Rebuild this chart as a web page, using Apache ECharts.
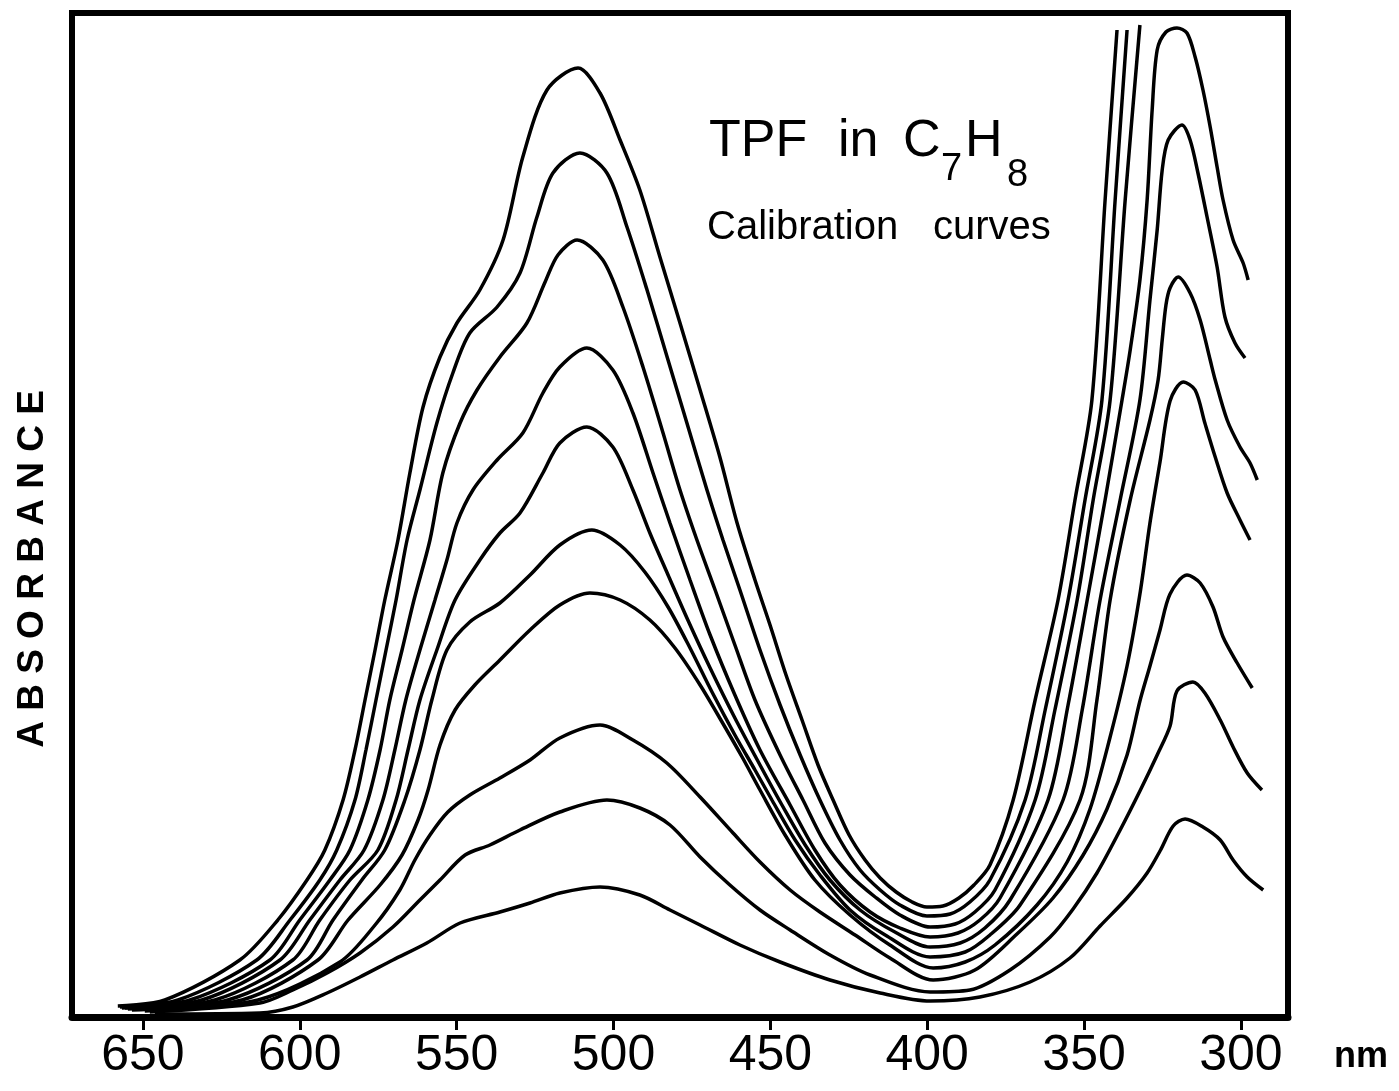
<!DOCTYPE html>
<html>
<head>
<meta charset="utf-8">
<title>TPF in C7H8 - calibration curves</title>
<script src="https://cdn.jsdelivr.net/npm/echarts@6/dist/echarts.min.js"></script>
<style>
  html, body { margin: 0; padding: 0; background: #fff; }
  #chart { width: 1399px; height: 1091px; }
</style>
</head>
<body>
<div id="chart"></div>
<script>
// [wavelength nm, absorbance], highest concentration first
var curve1 = [[658.0,0.011],[643.0,0.017],[619.1,0.057],[607.0,0.097],[597.7,0.137],[592.0,0.167],[586.2,0.217],[582.4,0.267],[579.2,0.317],[576.0,0.367],[572.9,0.417],[568.7,0.477],[564.9,0.544],[560.7,0.610],[555.3,0.660],[549.9,0.694],[542.6,0.727],[535.2,0.777],[528.9,0.860],[521.2,0.927],[511.3,0.949],[504.3,0.924],[497.9,0.877],[491.6,0.827],[485.2,0.760],[478.8,0.694],[472.4,0.627],[466.1,0.560],[460.6,0.494],[454.9,0.437],[450.1,0.392],[445.0,0.342],[439.9,0.297],[434.8,0.252],[430.0,0.217],[424.9,0.182],[419.8,0.157],[415.0,0.139],[409.9,0.125],[404.8,0.115],[400.1,0.110],[395.0,0.111],[389.9,0.119],[385.1,0.132],[380.0,0.152],[372.6,0.217],[365.6,0.317],[358.3,0.417],[352.9,0.517],[347.5,0.617],[343.3,0.817],[339.5,0.987]];
var curve2 = [[657.3,0.010],[638.8,0.017],[613.7,0.057],[603.1,0.097],[593.6,0.137],[588.2,0.167],[582.4,0.217],[578.9,0.267],[575.7,0.317],[572.5,0.367],[569.3,0.417],[565.8,0.477],[561.7,0.527],[556.3,0.594],[551.2,0.644],[545.8,0.684],[537.1,0.710],[529.8,0.744],[524.4,0.800],[519.3,0.844],[510.7,0.864],[502.1,0.844],[495.7,0.790],[489.3,0.727],[482.9,0.660],[476.6,0.594],[470.2,0.527],[465.1,0.477],[459.7,0.427],[453.3,0.367],[446.9,0.312],[440.5,0.262],[434.2,0.217],[427.8,0.177],[421.4,0.147],[415.0,0.127],[408.7,0.112],[400.1,0.101],[392.7,0.103],[386.4,0.115],[380.0,0.137],[368.8,0.217],[362.4,0.307],[355.1,0.417],[349.7,0.517],[344.3,0.617],[340.1,0.817],[336.3,0.987]];
var curve3 = [[656.7,0.009],[635.0,0.017],[609.5,0.057],[600.0,0.097],[590.4,0.137],[584.0,0.167],[578.3,0.217],[574.4,0.267],[571.3,0.317],[567.4,0.367],[563.6,0.417],[558.5,0.477],[554.4,0.544],[548.9,0.594],[543.5,0.627],[536.2,0.660],[527.6,0.694],[521.8,0.735],[517.7,0.762],[511.6,0.777],[503.4,0.757],[497.0,0.710],[490.6,0.650],[484.2,0.584],[478.8,0.527],[473.4,0.477],[467.6,0.427],[461.3,0.372],[454.9,0.317],[446.9,0.262],[439.6,0.217],[432.6,0.174],[424.6,0.142],[416.6,0.120],[408.7,0.102],[399.1,0.090],[391.1,0.093],[384.8,0.105],[378.4,0.127],[365.6,0.217],[359.3,0.307],[352.2,0.417],[347.1,0.517],[341.7,0.617],[336.9,0.817],[332.2,0.992]];
var curve4 = [[655.7,0.009],[631.2,0.017],[606.3,0.057],[596.8,0.097],[587.2,0.137],[579.5,0.167],[573.5,0.217],[569.7,0.267],[566.2,0.317],[561.7,0.367],[556.9,0.417],[553.1,0.457],[549.9,0.494],[544.8,0.527],[537.1,0.557],[528.9,0.584],[522.5,0.624],[517.1,0.650],[508.5,0.669],[500.2,0.647],[493.8,0.604],[487.4,0.544],[482.0,0.494],[475.6,0.437],[469.2,0.382],[461.3,0.322],[453.3,0.267],[443.7,0.212],[435.8,0.167],[427.8,0.132],[418.2,0.105],[408.7,0.089],[399.1,0.080],[390.2,0.084],[383.2,0.097],[376.8,0.119],[361.5,0.217],[355.1,0.312],[349.0,0.417],[343.3,0.517],[337.9,0.617],[335.3,0.667],[332.2,0.737],[329.9,0.817],[328.3,0.907],[326.7,0.967],[323.9,0.985],[320.4,0.989],[317.2,0.984],[314.6,0.960],[312.1,0.927],[309.8,0.890],[307.6,0.850],[305.7,0.817],[302.5,0.777],[299.3,0.754],[297.7,0.737]];
var curve5 = [[654.8,0.008],[627.0,0.017],[602.2,0.057],[593.6,0.097],[584.0,0.137],[575.1,0.167],[569.3,0.217],[565.5,0.267],[561.7,0.317],[556.3,0.367],[550.5,0.417],[542.6,0.457],[536.2,0.484],[529.8,0.504],[522.5,0.544],[517.1,0.574],[508.5,0.590],[500.2,0.570],[493.8,0.527],[488.4,0.484],[482.6,0.442],[476.3,0.397],[469.2,0.349],[461.3,0.299],[453.3,0.252],[446.3,0.212],[438.9,0.172],[431.0,0.137],[421.4,0.107],[410.3,0.085],[399.1,0.070],[389.5,0.074],[381.6,0.089],[373.6,0.117],[356.7,0.217],[350.6,0.307],[344.9,0.417],[338.5,0.517],[332.2,0.617],[329.0,0.717],[326.7,0.787],[325.1,0.847],[323.2,0.877],[318.8,0.892],[316.2,0.877],[313.7,0.844],[310.8,0.800],[307.6,0.750],[305.1,0.700],[301.9,0.674],[298.7,0.659]];
var curve6 = [[653.5,0.007],[622.9,0.017],[597.7,0.057],[589.4,0.097],[580.2,0.137],[572.9,0.167],[566.5,0.217],[561.7,0.267],[557.9,0.317],[553.1,0.367],[545.8,0.395],[536.2,0.414],[526.6,0.442],[517.1,0.472],[506.9,0.487],[497.9,0.472],[490.0,0.445],[482.6,0.410],[475.6,0.369],[468.6,0.325],[461.3,0.282],[454.9,0.247],[449.5,0.217],[442.1,0.177],[434.2,0.142],[424.6,0.107],[413.4,0.082],[399.1,0.060],[387.9,0.065],[380.0,0.082],[370.4,0.112],[351.3,0.217],[345.9,0.317],[341.7,0.417],[335.3,0.517],[329.0,0.597],[326.4,0.637],[325.1,0.677],[323.9,0.712],[322.6,0.729],[320.0,0.740],[316.2,0.724],[313.0,0.697],[309.8,0.657],[308.2,0.637],[304.4,0.597],[300.3,0.570],[297.1,0.554],[294.8,0.537]];
var curve7 = [[647.8,0.009],[618.4,0.017],[594.2,0.057],[584.6,0.097],[574.4,0.132],[567.4,0.162],[562.3,0.197],[559.1,0.227],[555.3,0.272],[550.5,0.307],[544.2,0.332],[536.2,0.357],[526.6,0.387],[517.1,0.412],[507.5,0.424],[497.9,0.417],[488.4,0.397],[480.4,0.369],[472.4,0.332],[465.4,0.295],[459.0,0.260],[453.3,0.227],[445.3,0.182],[435.8,0.137],[424.6,0.102],[411.9,0.072],[398.1,0.049],[387.9,0.055],[378.4,0.072],[365.0,0.112],[355.4,0.155],[348.1,0.208],[341.7,0.280],[336.3,0.351],[332.2,0.423],[329.0,0.494],[325.8,0.555],[322.6,0.616],[318.4,0.635],[314.6,0.627],[311.5,0.594],[308.2,0.560],[304.4,0.524],[300.3,0.497],[297.1,0.477]];
var curve8 = [[649.4,0.006],[613.3,0.017],[587.2,0.055],[576.0,0.092],[568.1,0.127],[563.3,0.157],[558.5,0.182],[552.8,0.205],[545.8,0.222],[536.2,0.239],[526.6,0.257],[517.1,0.279],[504.3,0.292],[493.8,0.277],[483.0,0.254],[472.4,0.220],[461.9,0.184],[453.3,0.155],[443.7,0.127],[434.2,0.105],[423.0,0.082],[411.9,0.059],[398.1,0.037],[384.8,0.047],[371.4,0.083],[359.9,0.119],[350.3,0.162],[342.7,0.208],[336.3,0.262],[332.2,0.316],[329.0,0.351],[325.8,0.387],[322.6,0.423],[317.2,0.442],[313.0,0.434],[308.9,0.410],[305.7,0.380],[301.2,0.354],[296.4,0.329]];
var curve9 = [[647.8,0.005],[612.7,0.014],[602.2,0.027],[591.3,0.044],[580.8,0.064],[570.3,0.090],[561.7,0.117],[555.3,0.137],[547.3,0.162],[539.4,0.172],[529.8,0.187],[517.1,0.205],[502.1,0.217],[491.6,0.209],[482.0,0.192],[472.4,0.160],[462.9,0.132],[453.3,0.107],[443.7,0.087],[431.0,0.062],[418.2,0.042],[399.1,0.025],[386.4,0.027],[373.6,0.047],[360.8,0.080],[353.5,0.108],[345.9,0.144],[338.5,0.187],[332.2,0.226],[326.7,0.262],[322.6,0.291],[320.4,0.326],[315.3,0.335],[311.5,0.324],[306.6,0.297],[302.5,0.270],[298.0,0.244],[293.3,0.227]];
var curve10 = [[646.2,0.003],[612.7,0.004],[602.2,0.010],[591.3,0.024],[580.8,0.040],[570.3,0.057],[559.5,0.074],[548.9,0.094],[536.2,0.105],[526.6,0.114],[517.1,0.124],[504.3,0.130],[491.6,0.122],[482.0,0.107],[472.4,0.092],[459.7,0.072],[446.9,0.055],[431.0,0.037],[415.0,0.024],[399.1,0.016],[383.2,0.020],[367.2,0.035],[354.5,0.059],[344.9,0.091],[336.3,0.119],[329.9,0.144],[325.8,0.166],[321.6,0.191],[317.8,0.198],[312.1,0.190],[306.6,0.177],[302.5,0.157],[298.0,0.140],[292.9,0.127]];

var tickLabels = [650, 600, 550, 500, 450, 400, 350, 300];

var curves = [curve1, curve2, curve3, curve4, curve5, curve6, curve7, curve8, curve9, curve10];

var chart = echarts.init(document.getElementById('chart'));

var series = curves.map(function (d, i) {
  return {
    name: 'curve ' + (i + 1),
    type: 'line',
    data: d,
    smooth: 0.3,
    symbol: 'none',
    silent: true,
    lineStyle: { color: '#000', width: 3.5 }
  };
});

// plain text pieces, placed like the hand lettering of the original
function label(txt, x, y, size, weight, rot) {
  return {
    type: 'text',
    x: x,
    y: y,
    rotation: rot || 0,
    silent: true,
    style: {
      text: txt,
      fill: '#000',
      font: (weight || 'normal') + ' ' + size + 'px "Liberation Sans", Arial, sans-serif',
      align: 'left',
      verticalAlign: 'middle',
      textAlign: 'left',
      textVerticalAlign: 'middle'
    }
  };
}

var texts = [
  label('TPF', 709, 142, 52),
  label('in', 838, 142, 52),
  label('C', 903, 142, 52),
  label('7', 941, 170, 38),
  label('H', 965, 142, 52),
  label('8', 1007, 176, 38),
  label('Calibration', 707, 228, 40),
  label('curves', 933, 228, 40),
  label('nm', 1334, 1057, 36, 'bold')
];
var yName = label('A B S O R B A N C E', 33, 569, 37, 'bold', Math.PI / 2);
yName.style.align = 'center';
yName.style.textAlign = 'center';
texts.push(yName);

chart.setOption({
  animation: false,
  backgroundColor: '#fff',
  grid: {
    left: 72, right: 111, top: 13, bottom: 74,
    show: true, borderColor: '#000', borderWidth: 6
  },
  xAxis: {
    type: 'value',
    inverse: true,
    min: 285,
    max: 672.6,
    axisLine: { show: true, lineStyle: { color: '#000', width: 7 } },
    axisTick: {
      show: true, inside: false, length: 13, customValues: tickLabels,
      lineStyle: { color: '#000', width: 3 }
    },
    axisLabel: {
      customValues: tickLabels,
      color: '#000',
      fontSize: 50,
      fontFamily: 'Liberation Sans',
      margin: 14
    },
    splitLine: { show: false }
  },
  yAxis: { type: 'value', min: 0, max: 1.004, show: false },
  graphic: texts,
  series: series
});
</script>
</body>
</html>
